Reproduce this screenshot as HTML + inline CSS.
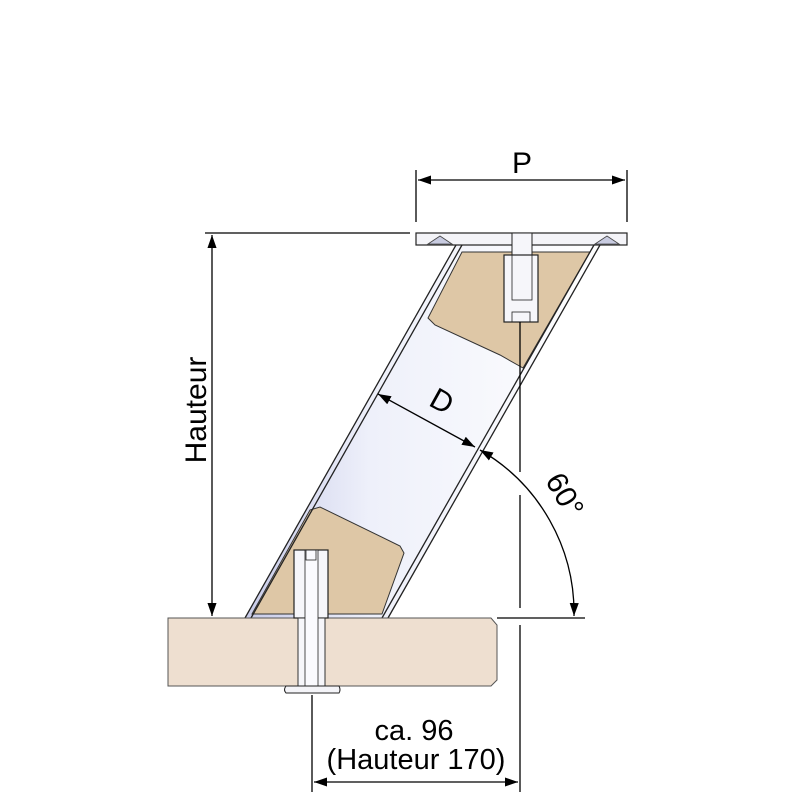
<!DOCTYPE html>
<html><head><style>body{margin:0;background:#fff}svg{display:block}</style></head><body>
<svg width="800" height="800" viewBox="0 0 800 800" xmlns="http://www.w3.org/2000/svg" font-family="Liberation Sans, sans-serif">
<defs>
<linearGradient id="tube" x1="0" y1="0" x2="1" y2="0">
<stop offset="0" stop-color="#c8cbe8"/><stop offset="0.35" stop-color="#eef0fa"/><stop offset="1" stop-color="#ffffff"/>
</linearGradient>
<marker id="ar" viewBox="0 0 10 10" refX="10" refY="5" markerWidth="13" markerHeight="13" markerUnits="userSpaceOnUse" orient="auto-start-reverse"><path d="M0,1.5 L10,5 L0,8.5z" fill="#000"/></marker>
</defs>
<polygon points="456,245 600,245 388,618 245,618" fill="url(#tube)"/>
<polygon points="462,252 590,252 523,368 500,355 435,325 428,318" fill="#dec7a6" stroke="#333" stroke-width="1"/>
<polygon points="310,510 320,507 400,546 404,553 382,614 252,614" fill="#dec7a6" stroke="#333" stroke-width="1"/>
<g stroke="#222" stroke-width="1.3" fill="none">
<line x1="456" y1="245" x2="245" y2="618"/><line x1="462" y1="245" x2="251" y2="618"/>
<line x1="600" y1="245" x2="388" y2="618"/><line x1="594" y1="245" x2="382" y2="618"/>
</g>
<path d="M168,618 L491,618 L497,625 L497,680 L491,686 L168,686 Z" fill="#eedfd0" stroke="#555" stroke-width="1"/>
<rect x="416" y="233" width="211" height="12" fill="#f4f4f8" stroke="#222" stroke-width="1.2"/>
<path d="M428,244 L440,236 L452,244Z M595,244 L607,236 L619,244Z" fill="#c8cbe0" stroke="#444" stroke-width="0.8"/>
<rect x="512" y="233" width="20" height="22" fill="#f6f6fa" stroke="#222" stroke-width="1"/>
<rect x="504" y="255" width="34" height="67" fill="#f6f6fa" stroke="#222" stroke-width="1.2"/>
<rect x="512" y="255" width="20" height="45" fill="none" stroke="#222" stroke-width="0.8"/>
<rect x="512" y="312" width="18" height="10" fill="none" stroke="#222" stroke-width="0.8"/>
<rect x="294" y="550" width="34" height="68" fill="#f6f6fa" stroke="#222" stroke-width="1.2"/>
<rect x="298" y="618" width="27" height="68" fill="#f6f6fa" stroke="#333" stroke-width="1"/>
<rect x="305" y="550" width="13" height="140" fill="#fafafe" stroke="#222" stroke-width="0.8"/>
<rect x="306" y="550" width="10" height="10" fill="none" stroke="#222" stroke-width="0.8"/>
<path d="M286,686 L339,686 Q341,690 339,693 L286,693 Q283,690 286,686Z" fill="#f4f4f8" stroke="#222" stroke-width="1"/>
<g stroke="#000" stroke-width="1.3" fill="none">
<line x1="416" y1="170" x2="416" y2="222"/><line x1="627" y1="170" x2="627" y2="222"/>
<line x1="418" y1="180" x2="625" y2="180" marker-start="url(#ar)" marker-end="url(#ar)"/>
<line x1="205" y1="233" x2="410" y2="233"/>
<line x1="212" y1="235" x2="212" y2="616" marker-start="url(#ar)" marker-end="url(#ar)"/>
<line x1="520" y1="322" x2="520" y2="472"/><line x1="520" y1="495" x2="520" y2="608"/>
<line x1="520" y1="625" x2="520" y2="792"/>
<line x1="497" y1="618" x2="585" y2="618"/>
<line x1="312" y1="695" x2="312" y2="792"/>
<line x1="314" y1="782" x2="518" y2="782" marker-start="url(#ar)" marker-end="url(#ar)"/>
<line x1="378" y1="394" x2="475" y2="447" marker-start="url(#ar)" marker-end="url(#ar)"/>
<path d="M480,450 A188,188 0 0 1 574,616" marker-start="url(#ar)" marker-end="url(#ar)"/>
</g>
<g font-size="30" fill="#000">
<text x="522" y="173" text-anchor="middle">P</text>
<text transform="translate(206,410) rotate(-90)" text-anchor="middle">Hauteur</text>
<text transform="translate(437,410) rotate(29)" text-anchor="middle">D</text>
<text transform="translate(556,500) rotate(60)" text-anchor="middle">60°</text>
<text x="414" y="740" text-anchor="middle" font-size="29">ca. 96</text>
<text x="416" y="769" text-anchor="middle" font-size="29">(Hauteur 170)</text>
</g>
</svg>
</body></html>
